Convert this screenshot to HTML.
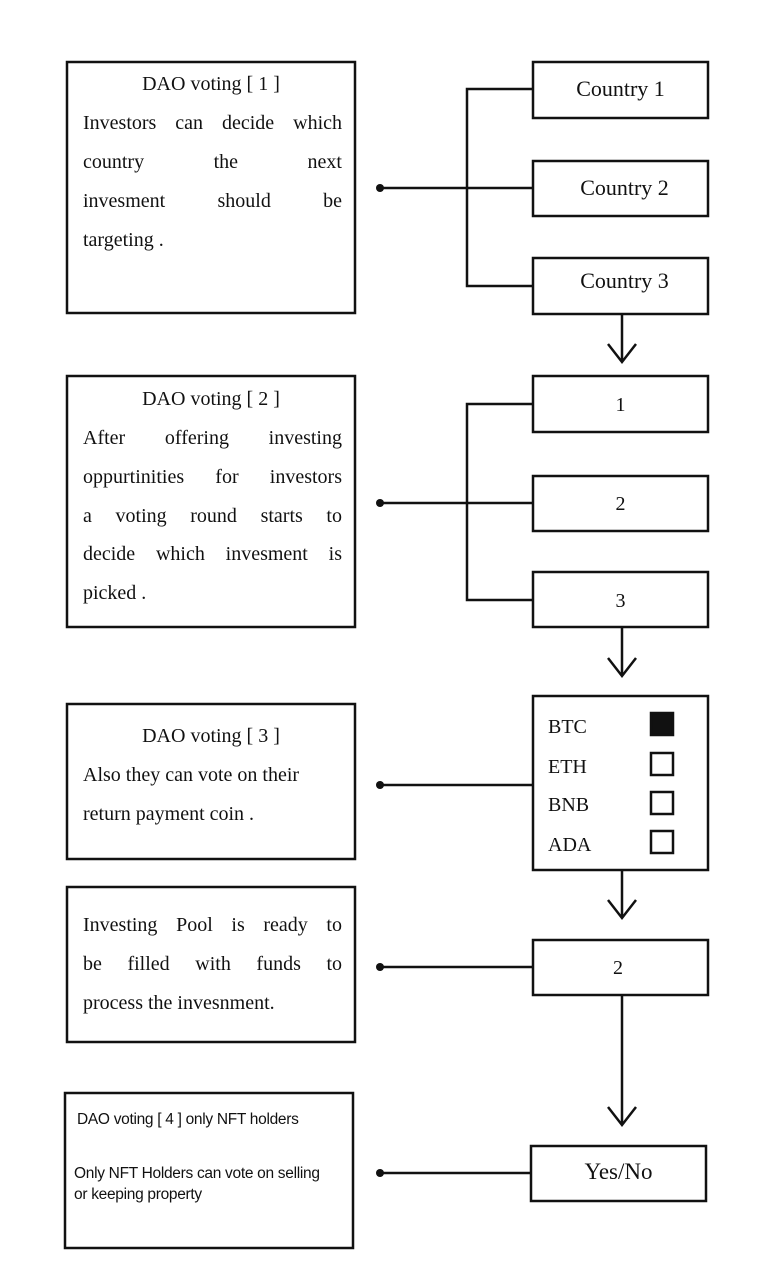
<!DOCTYPE html>
<html><head><meta charset="utf-8"><style>
body{margin:0;background:#fff;width:764px;height:1280px;position:relative;overflow:hidden}
svg{position:absolute;left:0;top:0}
.t{position:absolute;font-family:"Liberation Serif",serif;font-size:20px;color:#111;white-space:nowrap;line-height:24px}
.j{text-align:justify;text-align-last:justify}
.c{text-align:center}
.s{position:absolute;font-family:"Liberation Sans",sans-serif;font-size:15.5px;color:#111;line-height:20px;white-space:nowrap;letter-spacing:-0.3px}
</style></head><body>
<svg width="764" height="1280" viewBox="0 0 764 1280" fill="none" stroke="#111" stroke-width="2.5">
<rect x="67" y="62" width="288" height="251"/>
<rect x="533" y="62" width="175" height="56"/>
<rect x="533" y="161" width="175" height="55"/>
<rect x="533" y="258" width="175" height="56"/>
<path d="M533 89H467V286H533M380 188H533"/>
<circle cx="380" cy="188" r="4" fill="#111" stroke="none"/>
<path d="M622 314V362M608 344L622 362L636 344"/>
<rect x="67" y="376" width="288" height="251"/>
<rect x="533" y="376" width="175" height="56"/>
<rect x="533" y="476" width="175" height="55"/>
<rect x="533" y="572" width="175" height="55"/>
<path d="M533 404H467V600H533M380 503H533"/>
<circle cx="380" cy="503" r="4" fill="#111" stroke="none"/>
<path d="M622 627V676M608 658L622 676L636 658"/>
<rect x="67" y="704" width="288" height="155"/>
<rect x="533" y="696" width="175" height="174"/>
<path d="M380 785H533"/>
<circle cx="380" cy="785" r="4" fill="#111" stroke="none"/>
<rect x="651" y="713" width="22" height="22" fill="#111"/>
<rect x="651" y="753" width="22" height="22"/>
<rect x="651" y="792" width="22" height="22"/>
<rect x="651" y="831" width="22" height="22"/>
<path d="M622 870V918M608 900L622 918L636 900"/>
<rect x="67" y="887" width="288" height="155"/>
<rect x="533" y="940" width="175" height="55"/>
<path d="M380 967H533"/>
<circle cx="380" cy="967" r="4" fill="#111" stroke="none"/>
<path d="M622 995V1125M608 1107L622 1125L636 1107"/>
<rect x="65" y="1093" width="288" height="155"/>
<rect x="531" y="1146" width="175" height="55"/>
<path d="M380 1173H531"/>
<circle cx="380" cy="1173" r="4" fill="#111" stroke="none"/>
</svg>

<div class="t c" style="left:67px;width:288px;top:72px">DAO voting [ 1 ]</div>
<div class="t j" style="left:83px;width:259px;top:111px">Investors can decide which</div>
<div class="t j" style="left:83px;width:259px;top:150px">country the next</div>
<div class="t j" style="left:83px;width:259px;top:189px">invesment should be</div>
<div class="t" style="left:83px;top:228px">targeting .</div>

<div class="t c" style="left:533px;width:175px;top:77px;font-size:22px">Country 1</div>
<div class="t c" style="left:537px;width:175px;top:176px;font-size:22px">Country 2</div>
<div class="t c" style="left:537px;width:175px;top:269px;font-size:22px">Country 3</div>

<div class="t c" style="left:67px;width:288px;top:387px">DAO voting [ 2 ]</div>
<div class="t j" style="left:83px;width:259px;top:426px">After offering investing</div>
<div class="t j" style="left:83px;width:259px;top:465px">oppurtinities for investors</div>
<div class="t j" style="left:83px;width:259px;top:504px">a voting round starts to</div>
<div class="t j" style="left:83px;width:259px;top:542px">decide which invesment is</div>
<div class="t" style="left:83px;top:581px">picked .</div>

<div class="t c" style="left:533px;width:175px;top:393px">1</div>
<div class="t c" style="left:533px;width:175px;top:492px">2</div>
<div class="t c" style="left:533px;width:175px;top:589px">3</div>

<div class="t c" style="left:67px;width:288px;top:724px">DAO voting [ 3 ]</div>
<div class="t" style="left:83px;top:763px">Also they can vote on their</div>
<div class="t" style="left:83px;top:802px">return payment coin .</div>

<div class="t" style="left:548px;top:715px">BTC</div>
<div class="t" style="left:548px;top:755px">ETH</div>
<div class="t" style="left:548px;top:793px">BNB</div>
<div class="t" style="left:548px;top:833px">ADA</div>

<div class="t j" style="left:83px;width:259px;top:913px">Investing Pool is ready to</div>
<div class="t j" style="left:83px;width:259px;top:952px">be filled with funds to</div>
<div class="t" style="left:83px;top:991px">process the invesnment.</div>

<div class="t c" style="left:533px;width:170px;top:956px">2</div>

<div class="s" style="left:77px;top:1110px">DAO voting [ 4 ] only NFT holders</div>
<div class="s" style="left:74px;top:1164px">Only NFT Holders can vote on selling</div>
<div class="s" style="left:74px;top:1185px">or keeping property</div>

<div class="t c" style="left:531px;width:175px;top:1160px;font-size:23px">Yes/No</div>
</body></html>
